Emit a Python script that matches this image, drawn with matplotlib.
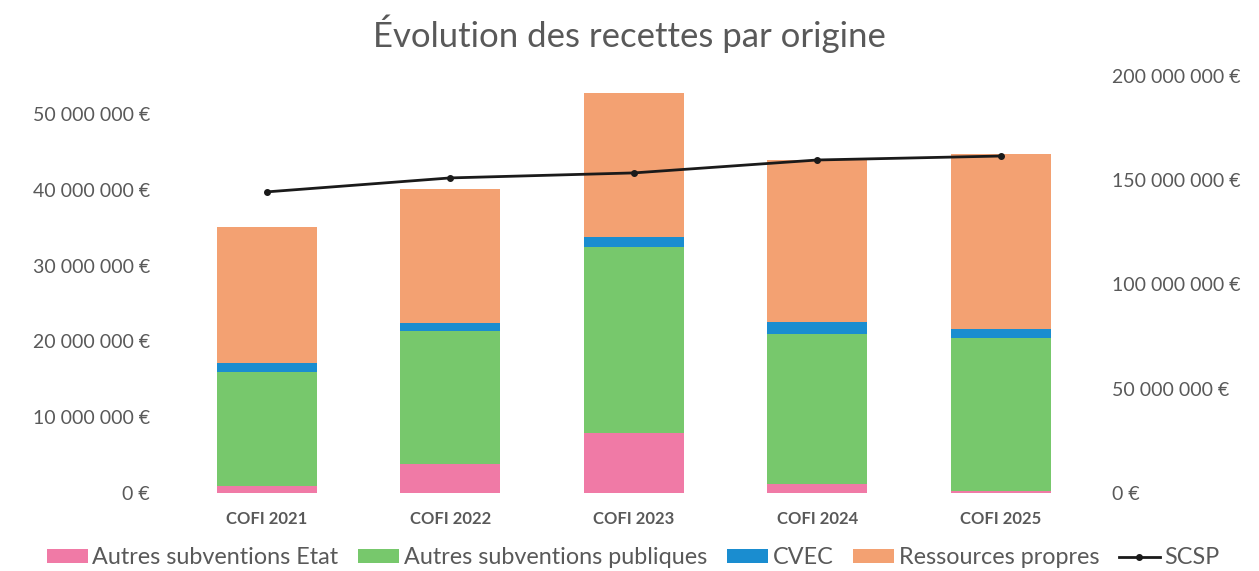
import matplotlib
matplotlib.use("Agg")
import matplotlib.pyplot as plt
from matplotlib.ticker import FuncFormatter, MultipleLocator
import numpy as np

plt.rcParams['font.family'] = ['Lato', 'DejaVu Sans']

categories = ["COFI 2021", "COFI 2022", "COFI 2023", "COFI 2024", "COFI 2025"]
autres_etat = [0.9e6, 3.8e6, 7.9e6, 1.2e6, 0.3e6]
autres_publiques = [15.0e6, 17.5e6, 24.5e6, 19.8e6, 20.1e6]
cvec = [1.3e6, 1.1e6, 1.3e6, 1.5e6, 1.2e6]
ressources_propres = [17.9e6, 17.7e6, 19.1e6, 21.4e6, 23.1e6]
scsp = [144.4e6, 151.1e6, 153.5e6, 159.7e6, 161.6e6]

series_names = ["Autres subventions Etat", "Autres subventions publiques", "CVEC", "Ressources propres"]
colors = ["#F07AA6", "#77C86C", "#1A8DD0", "#F3A172"]
text_gray = "#595959"

fig = plt.figure(figsize=(12.59, 5.71), dpi=100)
ax = fig.add_axes([0.139, 0.1366, 0.729, 0.7304])
ax2 = ax.twinx()

x = np.arange(len(categories))
bottom = np.zeros(len(categories))
handles = []
for name, vals, c in zip(series_names, [autres_etat, autres_publiques, cvec, ressources_propres], colors):
    b = ax.bar(x, vals, width=0.545, bottom=bottom, color=c, label=name, zorder=2)
    bottom += np.array(vals)
    handles.append(b)

ln, = ax2.plot(x, scsp, color="#1a1a1a", linewidth=2, marker='o', markersize=4, label="SCSP", zorder=3)
handles.append(ln)

ax.set_xlim(-0.5, len(categories) - 0.5)
ax.set_ylim(0, 55e6)
ax2.set_ylim(0, 200e6)
ax.yaxis.set_major_locator(MultipleLocator(10e6))
ax2.yaxis.set_major_locator(MultipleLocator(50e6))

def euro(v, pos):
    s = f"{int(round(v)):,}".replace(",", " ")
    return f"{s} €"

ax.yaxis.set_major_formatter(FuncFormatter(euro))
ax2.yaxis.set_major_formatter(FuncFormatter(euro))

ax.set_xticks(x)
ax.set_xticklabels(categories, fontsize=12, fontweight='bold', color=text_gray)
ax.tick_params(axis='x', length=0, pad=13)
ax.tick_params(axis='y', length=0, labelsize=14, labelcolor=text_gray, pad=18)
ax2.tick_params(axis='y', length=0, labelsize=14, labelcolor=text_gray, pad=14)

for a in (ax, ax2):
    for s in a.spines.values():
        s.set_visible(False)

fig.suptitle("Évolution des recettes par origine", fontsize=25, color=text_gray, y=0.975)

leg = fig.legend(handles=handles, labels=series_names + ["SCSP"], loc='lower center',
                 bbox_to_anchor=(0.503, -0.032), ncol=5, frameon=False, fontsize=16.8,
                 handlelength=1.75, handleheight=0.55, handletextpad=0.2, columnspacing=0.85)
for t in leg.get_texts():
    t.set_color(text_gray)

fig.savefig("out.png", dpi=100, facecolor="white")
